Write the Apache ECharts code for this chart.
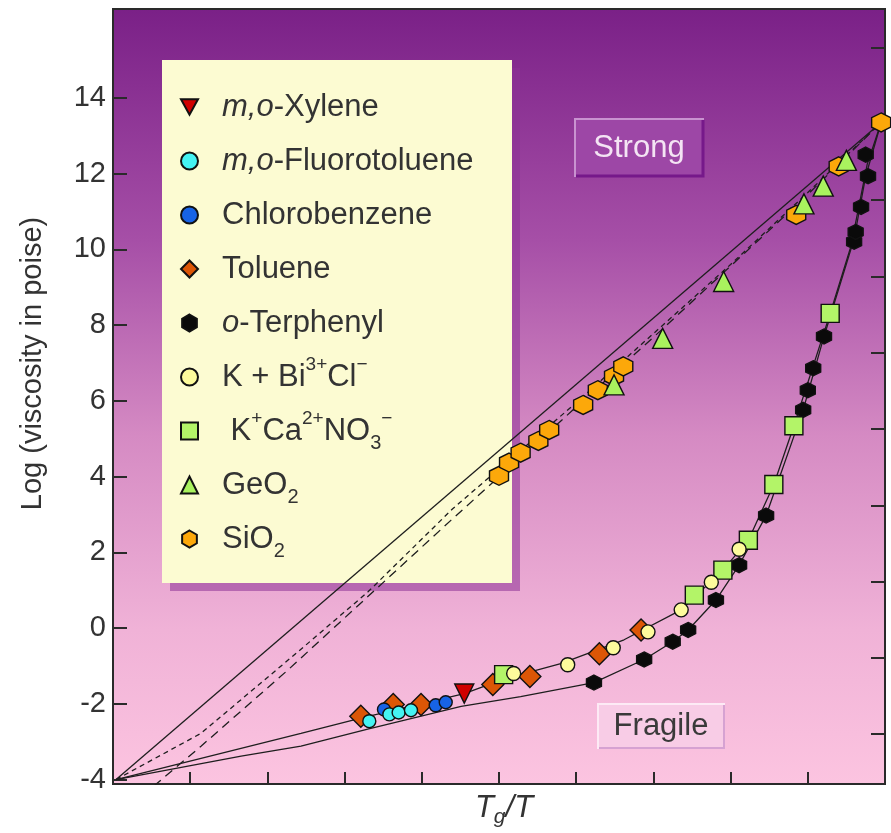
<!DOCTYPE html>
<html>
<head>
<meta charset="utf-8">
<script src="https://cdn.jsdelivr.net/npm/echarts@6.0.0/dist/echarts.min.js"></script>
<style>
  html, body { margin: 0; padding: 0; background: #ffffff; }
  #chart { width: 891px; height: 833px; }
</style>
</head>
<body>
<div id="chart"></div>
<script>
// ---------------- data (Tg/T, log viscosity in poise) ----------------
const xylene = [[0.455, -1.73]];
const fluorotoluene = [[0.332, -2.46], [0.358, -2.28], [0.370, -2.23], [0.386, -2.17]];
const chlorobenzene = [[0.351, -2.15], [0.418, -2.04], [0.431, -1.96]];
const toluene = [[0.321, -2.33], [0.363, -2.02], [0.399, -2.02], [0.492, -1.49], [0.540, -1.28], [0.630, -0.68], [0.684, -0.05]];
const terphenyl = [[0.623, -1.44], [0.688, -0.83], [0.725, -0.36], [0.745, -0.05], [0.781, 0.74], [0.811, 1.66], [0.846, 2.97],
  [0.894, 5.76], [0.900, 6.28], [0.907, 6.86], [0.921, 7.70], [0.960, 10.2], [0.962, 10.46], [0.969, 11.12], [0.978, 11.93], [0.975, 12.5]];
const kBiCl = [[0.519, -1.20], [0.589, -0.97], [0.648, -0.52], [0.693, -0.10], [0.736, 0.48], [0.775, 1.21], [0.811, 2.08]];
const kCaNO3 = [[0.506, -1.23], [0.753, 0.87], [0.790, 1.53], [0.823, 2.32], [0.856, 3.79], [0.882, 5.34], [0.929, 8.31]];
const geo2 = [[0.649, 6.42], [0.712, 7.65], [0.791, 9.15], [0.895, 11.20], [0.920, 11.67], [0.950, 12.35]];
const sio2 = [[0.500, 4.02], [0.513, 4.37], [0.528, 4.63], [0.551, 4.94], [0.565, 5.23], [0.609, 5.89], [0.628, 6.28],
  [0.649, 6.65], [0.661, 6.91], [0.885, 10.91], [0.940, 12.19], [0.995, 13.35]];

// guide curves
const strongLine = [[0.004, -4], [0.995, 13.35]];
const strongDashA = [[0.004, -4], [0.114, -2.78], [0.24, -0.62], [0.33, 0.95], [0.44, 3.15], [0.6, 5.95], [0.8, 9.6], [0.9, 11.5], [0.995, 13.35]];
const strongDashB = [[0.053, -4.17], [0.114, -3.12], [0.227, -1.10], [0.438, 2.85], [0.712, 7.9], [0.895, 11.35], [0.995, 13.35]];
const fragileUpper = [[0.004, -4], [0.2435, -2.78], [0.321, -2.38], [0.399, -2.0], [0.455, -1.73], [0.506, -1.35], [0.580, -0.94],
  [0.662, -0.31], [0.736, 0.48], [0.790, 1.53], [0.823, 2.32], [0.856, 3.79], [0.882, 5.34], [0.929, 8.31], [0.956, 10.09], [0.977, 12.25], [0.995, 13.35]];
const fragileLower = [[0.004, -4], [0.166, -3.38], [0.2435, -3.12], [0.330, -2.67], [0.451, -2.07], [0.528, -1.81], [0.623, -1.44],
  [0.688, -0.83], [0.725, -0.36], [0.745, -0.05], [0.781, 0.74], [0.811, 1.66], [0.846, 2.97], [0.894, 5.76], [0.921, 7.70],
  [0.960, 10.28], [0.975, 11.93], [0.995, 13.35]];

// axes
const yTickValues = [-4, -2, 0, 2, 4, 6, 8, 10, 12, 14];
const rightTickValues = [-2.8, -0.79, 1.23, 3.24, 5.26, 7.27, 9.28, 11.3, 13.31, 15.33];
const xTickInterval = 0.1;

// legend
const seriesNames = ['m,o-Xylene', 'm,o-Fluorotoluene', 'Chlorobenzene', 'Toluene', 'o-Terphenyl', 'K + Bi3+Cl-', 'K+Ca2+NO3-', 'GeO2', 'SiO2'];
const legendLabels = ['{i|m,o}-Xylene', '{i|m,o}-Fluorotoluene', 'Chlorobenzene', 'Toluene', '{i|o}-Terphenyl',
  'K + Bi{sup|3+}Cl{sup|−}', ' K{sup|+}Ca{sup|2+}NO{sub|3}{sup|−}', 'GeO{sub|2}', 'SiO{sub|2}'];

// ---------------- chart ----------------
const FONT = 'Liberation Sans, Arial, Helvetica, sans-serif';
const HEX = 'path://M10,0 L18.66,5 L18.66,15 L10,20 L1.34,15 L1.34,5 Z';
const DOWN_TRI = 'path://M0,0 L20,0 L10,18 Z';
const chart = echarts.init(document.getElementById('chart'), null, { renderer: 'canvas' });

function guide(data, type) {
  return {
    type: 'line', data: data, showSymbol: false, symbol: 'none', silent: true, z: 2,
    lineStyle: { color: '#1e1e1e', width: 1.3, type: type }
  };
}
function pts(name, data, symbol, size, color, extra) {
  return Object.assign({
    type: 'scatter', name: name, data: data, symbol: symbol, symbolSize: size, z: 3,
    itemStyle: { color: color, borderColor: '#111', borderWidth: 1.4, opacity: 1 }
  }, extra || {});
}

const option = {
  animation: false,
  backgroundColor: '#ffffff',
  grid: {
    left: 113, right: 6, top: 9, bottom: 45, show: true,
    borderColor: '#2a2a2a', borderWidth: 2,
    backgroundColor: {
      type: 'linear', x: 0, y: 0, x2: 0, y2: 1,
      colorStops: [
        { offset: 0, color: '#7a2087' },
        { offset: 0.3, color: '#a64fa7' },
        { offset: 0.55, color: '#d58ac3' },
        { offset: 0.8, color: '#f0b2d7' },
        { offset: 1, color: '#fcc4e0' }
      ]
    }
  },
  xAxis: {
    type: 'value', min: 0, max: 1, interval: xTickInterval,
    axisLine: { show: true, onZero: false, lineStyle: { color: '#2a2a2a', width: 2 } },
    axisTick: { show: true, inside: true, length: 12, lineStyle: { color: '#2a2a2a', width: 2 } },
    axisLabel: { show: false },
    splitLine: { show: false },
    name: '{t|T}{g|g}{t|/T}',
    nameLocation: 'middle', nameGap: 4,
    nameTextStyle: {
      padding: [0, 0, 0, 10],
      rich: {
        t: { fontFamily: FONT, fontStyle: 'italic', fontSize: 31, color: '#333', lineHeight: 40 },
        g: { fontFamily: FONT, fontStyle: 'italic', fontSize: 21, color: '#333', lineHeight: 20, verticalAlign: 'bottom' }
      }
    }
  },
  yAxis: [{
    type: 'value', min: -4.118, max: 16.346, position: 'left',
    axisLine: { show: true, onZero: false, lineStyle: { color: '#2a2a2a', width: 2 } },
    axisTick: { show: true, inside: true, length: 14, customValues: yTickValues, lineStyle: { color: '#2a2a2a', width: 2 } },
    axisLabel: { show: true, customValues: yTickValues, margin: 7, fontFamily: FONT, fontSize: 29, color: '#333' },
    splitLine: { show: false },
    name: 'Log (viscosity in poise)',
    nameLocation: 'middle', nameRotate: 90, nameGap: 66,
    nameTextStyle: { fontFamily: FONT, fontSize: 29, color: '#333', padding: [0, 0, 0, 66] }
  }, {
    type: 'value', min: -4.118, max: 16.346, position: 'right',
    axisLine: { show: true, onZero: false, lineStyle: { color: '#2a2a2a', width: 2 } },
    axisTick: { show: true, inside: true, length: 14, customValues: rightTickValues, lineStyle: { color: '#2a2a2a', width: 2 } },
    axisLabel: { show: false },
    splitLine: { show: false }
  }],
  legend: {
    show: true, orient: 'vertical', left: 162, top: 60,
    padding: [25, 30, 23, 18],
    itemWidth: 17, itemHeight: 17, itemGap: 10,
    selectedMode: false,
    data: seriesNames,
    formatter: function (name) { return legendLabels[seriesNames.indexOf(name)]; },
    textStyle: {
      fontFamily: FONT, fontSize: 31, color: '#333', lineHeight: 44, padding: [0, 0, 0, 19],
      rich: {
        i: { fontFamily: FONT, fontStyle: 'italic', fontSize: 31, color: '#333', lineHeight: 44 },
        sup: { fontFamily: FONT, fontSize: 19, color: '#333', lineHeight: 19, verticalAlign: 'top' },
        sub: { fontFamily: FONT, fontSize: 20, color: '#333', lineHeight: 20, verticalAlign: 'bottom' }
      }
    }
  },
  graphic: [
    { type: 'rect', z: 1, z2: 0, silent: true, shape: { x: 170, y: 68, width: 350, height: 523 }, style: { fill: 'rgba(140,50,150,0.55)' } },
    { type: 'rect', z: 1, z2: 1, silent: true, shape: { x: 162, y: 60, width: 350, height: 523 }, style: { fill: '#fcfbd2' } },
    {
      type: 'group', z: 3, silent: true, children: [
        { type: 'rect', shape: { x: 575, y: 119, width: 128, height: 57 }, style: { fill: '#9d47a6', stroke: '#c993d0', lineWidth: 2 } },
        { type: 'polyline', shape: { points: [[576, 176], [703, 176], [703, 120]] }, style: { stroke: '#76198a', lineWidth: 3, fill: null } },
        { type: 'text', x: 639, y: 148, style: { text: 'Strong', fontFamily: FONT, fontSize: 31, fill: '#f4e4f4', align: 'center', verticalAlign: 'middle' } }
      ]
    },
    {
      type: 'group', z: 3, silent: true, children: [
        { type: 'rect', shape: { x: 598, y: 704, width: 126, height: 44 }, style: { fill: '#f8cce6', stroke: '#fdeaf5', lineWidth: 2 } },
        { type: 'polyline', shape: { points: [[599, 748], [724, 748], [724, 705]] }, style: { stroke: '#d6a2d2', lineWidth: 2, fill: null } },
        { type: 'text', x: 661, y: 726, style: { text: 'Fragile', fontFamily: FONT, fontSize: 31, fill: '#3a3a3a', align: 'center', verticalAlign: 'middle' } }
      ]
    }
  ],
  series: [
    guide(strongLine, 'solid'),
    guide(strongDashA, [5, 4]),
    guide(strongDashB, [9, 6]),
    guide(fragileUpper, 'solid'),
    guide(fragileLower, 'solid'),
    pts('Toluene', toluene, 'diamond', 22, '#dc5606'),
    pts('Chlorobenzene', chlorobenzene, 'circle', 13, '#1763e6'),
    pts('m,o-Fluorotoluene', fluorotoluene, 'circle', 13, '#45f3f3'),
    pts('m,o-Xylene', xylene, DOWN_TRI, 19, '#d00000'),
    pts('o-Terphenyl', terphenyl, HEX, 15, '#0a0a0a'),
    pts('K+Ca2+NO3-', kCaNO3, 'rect', 18, '#b3f468'),
    pts('K + Bi3+Cl-', kBiCl, 'circle', 14, '#fdfb9c'),
    pts('SiO2', sio2, HEX, 19, '#fca80a'),
    pts('GeO2', geo2, 'triangle', 20, '#a9f25e')
  ]
};
chart.setOption(option);
</script>
</body>
</html>
